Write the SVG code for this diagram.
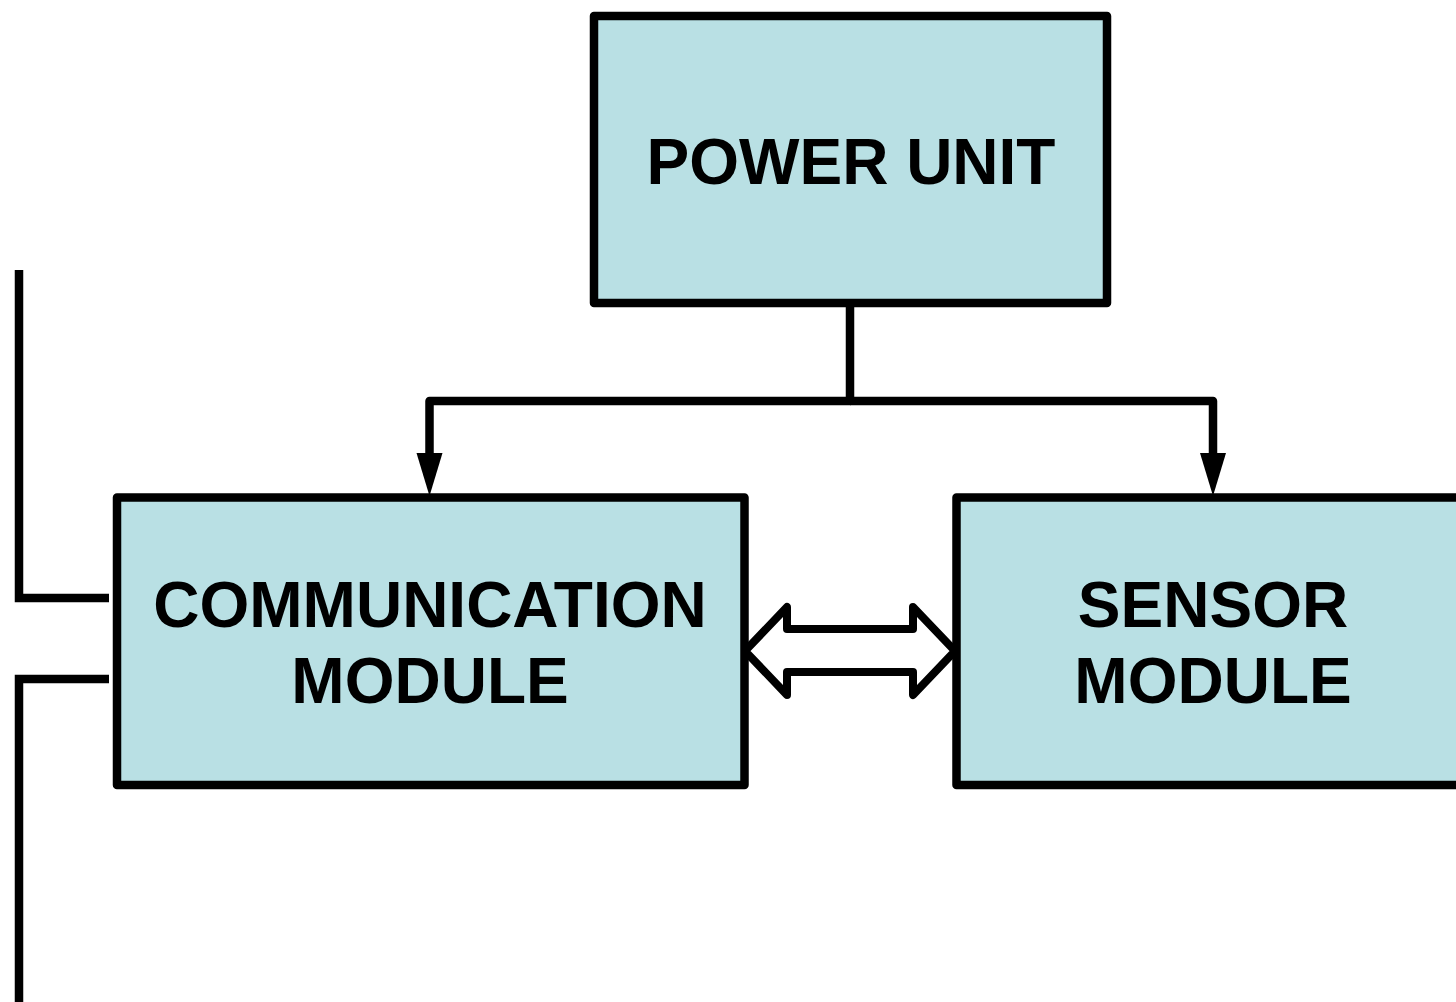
<svg xmlns="http://www.w3.org/2000/svg" width="1456" height="1002" viewBox="0 0 1456 1002">
  <style>
    .box { fill: #b9e0e4; stroke: #000; stroke-width: 8.5; stroke-linejoin: round; }
    .label { font-family: "Liberation Sans", Arial, sans-serif; font-weight: bold; font-size: 64px; fill: #000; text-anchor: middle; }
    .wire { fill: none; stroke: #000; stroke-width: 8.5; stroke-linejoin: round; }
    .bus { fill: none; stroke: #000; stroke-width: 8.5; stroke-linecap: butt; stroke-linejoin: miter; }
    .head { fill: #000; stroke: none; }
    .dbl { fill: #fff; stroke: #000; stroke-width: 8; stroke-linejoin: round; }
  </style>
  <rect width="1456" height="1002" fill="#fff"/>

  <g id="connectors">
    <!-- power feed splitting to both modules -->
    <path class="wire" d="M850 302 V401 H429.5 V456"/>
    <path class="wire" d="M850 401 H1213 V456"/>
    <polygon class="head" points="416.5,453 442.5,453 429.5,496"/>
    <polygon class="head" points="1200,453 1226,453 1213,496"/>
    <!-- bidirectional link between modules -->
    <polygon class="dbl" points="745,651 787,607 787,629 913,629 913,607 955,651 913,695 913,672 787,672 787,695"/>
    <!-- external lines on the communication module -->
    <path class="bus" d="M19 270 V598 H109"/>
    <path class="bus" d="M109 679 H19 V1002"/>
  </g>

  <g id="power-unit">
    <rect class="box" x="594" y="16" width="513" height="287"/>
    <text class="label" x="851" y="184">POWER UNIT</text>
  </g>

  <g id="communication-module">
    <rect class="box" x="117" y="497.5" width="627.5" height="287.5"/>
    <text class="label" x="430" y="627">COMMUNICATION</text>
    <text class="label" x="430" y="703">MODULE</text>
  </g>

  <g id="sensor-module">
    <rect class="box" x="956.5" y="497.5" width="520" height="287.5"/>
    <text class="label" x="1213" y="627">SENSOR</text>
    <text class="label" x="1213" y="703">MODULE</text>
  </g>
</svg>
